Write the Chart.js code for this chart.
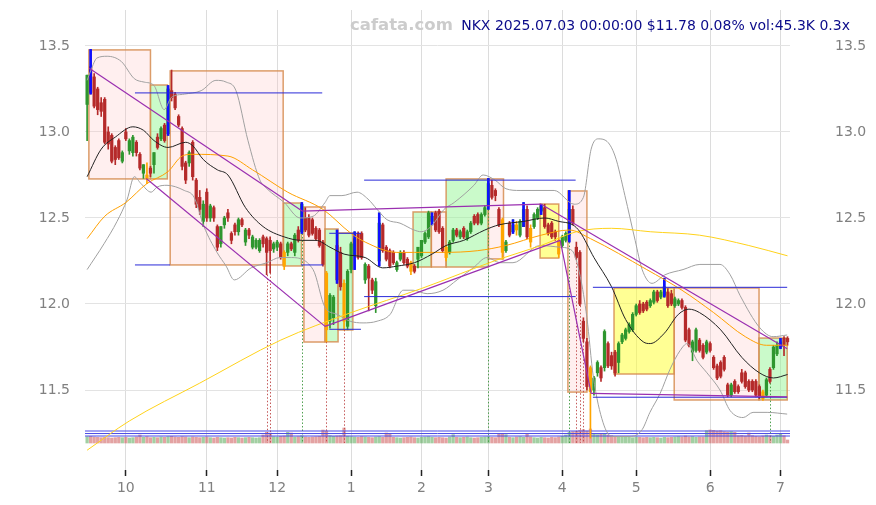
<!DOCTYPE html>
<html>
<head>
<meta charset="utf-8">
<script src="https://cdn.jsdelivr.net/npm/chart.js@4.4.1/dist/chart.umd.min.js"></script>
<style>
  html, body { margin: 0; padding: 0; background: #fff; }
  #wrap { width: 876px; height: 505px; position: relative; }
</style>
</head>
<body>
<div id="wrap"><canvas id="chart"></canvas></div>
<script>
// daily candles, index 0 = 2024-09-16 ... index 199 = 2025-07-03
const opens = [
  13.16,13.38,13.32,13.25,13.17,13.19,13.00,12.98,12.91,12.95, 12.83,13.00,12.89,12.88,12.94,12.87,12.76,12.75,12.79,12.81,
  12.97,12.96,13.04,12.99,13.24,13.22,13.09,13.02,12.82,12.82, 12.94,12.72,12.62,12.48,12.65,12.50,12.56,12.45,12.35,12.46,
  12.53,12.41,12.46,12.42,12.49,12.36,12.43,12.33,12.33,12.31, 12.39,12.38,12.37,12.32,12.33,12.35,12.30,12.30,12.35,12.30,
  12.43,12.42,12.50,12.50,12.49,12.44,12.43,12.36,12.18,11.90, 11.92,12.34,12.30,12.12,11.87,12.20,12.28,12.41,12.41,12.14,
  12.22,12.14,11.99,12.25,12.46,12.33,12.31,12.30,12.20,12.26, 12.30,12.26,12.24,12.22,12.26,12.28,12.36,12.39,12.48,12.53,
  12.54,12.44,12.33,12.30,12.37,12.43,12.39,12.44,12.38,12.42, 12.51,12.52,12.47,12.52,12.57,12.69,12.66,12.55,12.49,12.31,
  12.47,12.42,12.46,12.40,12.45,12.55,12.44,12.45,12.50,12.54, 12.56,12.46,12.47,12.42,12.37,12.34,12.37,12.40,12.55,12.33,
  12.30,11.90,11.78,11.63,11.50,11.60,11.63,11.63,11.77,11.70, 11.72,11.66,11.78,11.80,11.84,11.85,11.94,12.00,12.00,12.01,
  11.99,12.01,12.07,12.04,12.05,12.07,12.06,11.99,12.00,12.02, 11.98,11.85,11.72,11.73,11.79,11.76,11.72,11.77,11.69,11.64,
  11.66,11.69,11.53,11.47,11.55,11.52,11.60,11.60,11.55,11.55, 11.55,11.52,11.49,11.47,11.62,11.63,11.71,11.75,11.80,11.80
];
const highs = [
  13.33,13.48,13.34,13.26,13.20,13.20,13.03,12.99,12.92,12.96, 12.89,13.02,12.96,12.98,12.95,12.88,12.81,12.82,12.80,12.88,
  12.99,13.03,13.05,13.27,13.36,13.23,13.10,13.03,12.83,12.89, 12.95,12.73,12.66,12.60,12.67,12.58,12.57,12.46,12.45,12.51,
  12.55,12.42,12.47,12.50,12.50,12.44,12.44,12.40,12.38,12.38, 12.40,12.39,12.39,12.36,12.37,12.36,12.31,12.36,12.36,12.41,
  12.45,12.59,12.56,12.52,12.50,12.45,12.44,12.37,12.19,12.06, 12.05,12.43,12.33,12.14,12.20,12.36,12.42,12.42,12.42,12.24,
  12.23,12.15,12.15,12.53,12.47,12.34,12.32,12.31,12.25,12.31, 12.31,12.27,12.25,12.23,12.33,12.37,12.42,12.54,12.53,12.54,
  12.55,12.45,12.34,12.37,12.44,12.44,12.43,12.45,12.43,12.48, 12.52,12.53,12.53,12.57,12.73,12.72,12.67,12.56,12.50,12.37,
  12.48,12.49,12.48,12.49,12.59,12.57,12.46,12.53,12.56,12.58, 12.58,12.47,12.48,12.43,12.38,12.40,12.42,12.66,12.57,12.36,
  12.31,11.92,11.80,11.64,11.58,11.67,11.64,11.85,11.78,11.72, 11.73,11.78,11.83,11.86,11.89,11.95,12.00,12.02,12.01,12.02,
  12.03,12.08,12.08,12.08,12.15,12.09,12.08,12.04,12.03,12.03, 11.99,11.86,11.79,11.86,11.80,11.77,11.79,11.78,11.70,11.65,
  11.67,11.70,11.54,11.54,11.56,11.53,11.62,11.61,11.56,11.56, 11.56,11.53,11.50,11.57,11.63,11.76,11.78,11.80,11.81,11.81
];
const lows = [
  12.95,13.22,13.14,13.10,13.09,12.93,12.90,12.82,12.81,12.84, 12.82,12.95,12.87,12.86,12.86,12.78,12.73,12.70,12.74,12.76,
  12.90,12.95,12.94,12.98,13.18,13.13,13.03,12.78,12.70,12.80, 12.72,12.56,12.52,12.45,12.48,12.48,12.48,12.31,12.33,12.44,
  12.48,12.35,12.40,12.40,12.45,12.34,12.38,12.32,12.32,12.30, 12.33,12.17,12.18,12.30,12.31,12.26,12.20,12.28,12.31,12.28,
  12.36,12.41,12.42,12.39,12.40,12.37,12.33,12.22,11.78,11.86, 11.88,12.12,12.08,11.85,11.85,12.18,12.20,12.26,12.26,12.12,
  11.96,12.06,11.95,12.22,12.30,12.25,12.21,12.23,12.19,12.25, 12.23,12.21,12.17,12.18,12.21,12.27,12.35,12.38,12.46,12.42,
  12.41,12.30,12.25,12.29,12.36,12.39,12.38,12.38,12.37,12.41, 12.46,12.46,12.46,12.51,12.55,12.61,12.60,12.45,12.26,12.30,
  12.39,12.41,12.40,12.39,12.45,12.38,12.33,12.44,12.49,12.52, 12.44,12.40,12.38,12.37,12.27,12.33,12.36,12.36,12.46,12.26,
  11.99,11.78,11.50,11.22,11.47,11.58,11.55,11.61,11.63,11.62, 11.58,11.60,11.77,11.79,11.83,11.84,11.93,11.94,11.95,11.96,
  11.98,12.00,12.01,12.03,12.04,11.98,11.99,11.98,11.99,11.97, 11.78,11.75,11.67,11.72,11.72,11.68,11.71,11.72,11.62,11.56,
  11.57,11.61,11.46,11.46,11.48,11.48,11.54,11.51,11.49,11.49, 11.46,11.45,11.44,11.46,11.54,11.62,11.70,11.74,11.70,11.76
];
const closes = [
  13.33,13.23,13.15,13.13,13.12,12.94,12.93,12.83,12.84,12.85, 12.88,12.96,12.95,12.97,12.88,12.79,12.81,12.73,12.76,12.88,
  12.91,13.02,12.95,13.25,13.20,13.14,13.04,12.80,12.72,12.88, 12.74,12.58,12.55,12.58,12.50,12.57,12.50,12.33,12.45,12.50,
  12.50,12.37,12.42,12.49,12.46,12.43,12.40,12.39,12.37,12.37, 12.35,12.30,12.31,12.35,12.36,12.27,12.22,12.35,12.32,12.40,
  12.37,12.58,12.43,12.40,12.41,12.38,12.34,12.23,11.85,12.05, 12.04,12.14,12.10,11.90,12.19,12.35,12.38,12.27,12.27,12.23,
  12.15,12.08,12.13,12.47,12.31,12.26,12.22,12.24,12.24,12.30, 12.24,12.22,12.19,12.19,12.33,12.37,12.41,12.53,12.51,12.43,
  12.42,12.31,12.27,12.36,12.43,12.40,12.42,12.39,12.42,12.47, 12.47,12.47,12.52,12.56,12.70,12.62,12.63,12.46,12.30,12.36,
  12.40,12.46,12.43,12.48,12.55,12.39,12.36,12.52,12.55,12.57, 12.45,12.41,12.39,12.39,12.29,12.39,12.41,12.55,12.47,12.27,
  12.00,11.80,11.52,11.49,11.57,11.66,11.57,11.84,11.64,11.64, 11.60,11.77,11.82,11.85,11.88,11.94,11.99,11.95,11.96,11.97,
  12.02,12.07,12.02,12.07,12.10,11.99,12.00,12.03,12.02,11.98, 11.79,11.76,11.78,11.85,11.73,11.69,11.78,11.73,11.63,11.57,
  11.58,11.62,11.47,11.53,11.49,11.49,11.55,11.52,11.50,11.50, 11.47,11.46,11.45,11.56,11.55,11.75,11.76,11.78,11.76,11.78
];
// b = blue signal mark, o = orange signal candle, g/r = plain
const kinds =
  'gbrrrrrrrr' + 'grggrrgorg' + 'rgrbrrrrrg' + 'rrrgrgrrgg' + 'rrrgrgrggg' +
  'rrrggrogrg' + 'rbrrrrrrog' + 'gbroggbrrg' + 'rrgbrrrrgg' + 'rrorggggbr' +
  'rroggrgrgg' + 'rrggbrrrog' + 'rbogbroggb' + 'rrrroggbrr' + 'rrroggrgrr' +
  'rggggggrrr' + 'ggrgbrrggr' + 'rrggrrgrrr' + 'rrrgrrrrrr' + 'rrogrggbrr';
const volumes = [
  95,100,90,85,80,85,80,75,80,85, 80,85,75,80,90,120,85,95,80,85,
  80,90,85,95,100,90,85,95,90,80, 90,85,80,85,90,80,75,85,80,75,
  80,75,85,80,75,80,85,80,75,80, 120,160,150,95,90,100,105,160,150,90,
  95,110,90,85,90,95,100,195,180,110, 100,105,110,225,100,95,90,85,95,90,
  85,80,90,95,85,150,140,85,80,75, 80,85,90,80,75,85,90,95,85,80,
  85,80,75,90,125,85,80,85,90,80, 75,80,85,90,95,85,80,130,135,125,
  85,80,90,95,85,130,90,80,75,85, 80,75,85,80,90,100,120,160,170,175,
  190,200,180,210,130,125,135,130,120,110, 95,90,85,90,85,80,90,85,80,85,
  80,85,80,75,85,80,85,90,95,90, 105,90,95,85,90,90,185,195,190,180,
  185,170,165,170,160,110,115,105,150,110, 100,95,105,120,110,100,120,135,110,45.3
];
const volAvgLines = [180, 142, 105];

const monthTickIdx = [11, 34, 54, 75, 95, 114, 135, 156, 177, 197];
const monthTickLabels = ['10', '11', '12', '1', '2', '3', '4', '5', '6', '7'];
const priceTicks = [11.5, 12.0, 12.5, 13.0, 13.5];

// moving averages, sampled along the bar index
const maBlackIdx = [0,4,8,13,16,19,23,28,30,33,37,40,45,50,56,61,65,69,73,79,84,88,93,98,102,107,113,117,124,130,134,138,140,144,149,153,158,160,164,168,171,174,180,186,191,195,199];
const maBlackVal = [12.74,12.90,12.97,13.03,13.01,12.95,12.91,12.94,12.92,12.84,12.78,12.75,12.56,12.45,12.39,12.37,12.37,12.33,12.29,12.27,12.21,12.22,12.24,12.29,12.34,12.37,12.43,12.46,12.48,12.50,12.48,12.46,12.42,12.27,12.10,11.91,11.78,11.77,11.83,11.94,11.97,11.95,11.85,11.69,11.60,11.57,11.59];
const maOrangeIdx = [0,5,11,17,23,27,30,40,47,57,67,75,79,88,93,101,111,119,129,137,143,159,169,178,187,193,199];
const maOrangeVal = [12.38,12.51,12.59,12.70,12.77,12.86,12.87,12.86,12.78,12.65,12.55,12.41,12.36,12.30,12.30,12.30,12.31,12.34,12.40,12.43,12.38,12.20,12.08,11.95,11.81,11.76,11.76];
const maYellowIdx = [0,12,32,55,75,95,117,129,139,149,160,174,188,199];
const maYellowVal = [11.15,11.32,11.54,11.79,11.95,12.09,12.26,12.34,12.42,12.44,12.42,12.40,12.34,12.28];
const bandUpIdx = [0,1.1,2.8,5.7,9.7,13.4,16.2,19,21.9,23.9,27.6,32.4,36.6,39.5,42.3,45.7,49.1,51.1,56,60.5,64.2,67.6,69,72.4,76.7,79.8,82.4,85.2,88.9,92.9,94.9,97.7,101.4,104.3,109.9,112.5,115.9,119,123,132.7,138.4,141,143.2,145.2,147.4,150,152.8,155.7,157.7,160.5,164.2,169.3,174.1,179.8,182.7,185.5,191.2,194.9,198.9];
const bandUpVal = [13.30,13.36,13.43,13.44,13.41,13.31,13.29,13.27,13.13,13.20,13.22,13.24,13.30,13.29,13.24,12.95,12.72,12.67,12.59,12.50,12.51,12.59,12.63,12.63,12.65,12.61,12.55,12.49,12.47,12.43,12.42,12.45,12.55,12.59,12.69,12.75,12.72,12.67,12.66,12.66,12.58,12.62,12.90,12.96,12.95,12.86,12.63,12.37,12.20,12.12,12.17,12.20,12.23,12.23,12.17,12.05,11.86,11.81,11.82];
const bandLoIdx = [0,4.8,8.5,11.4,13.4,15.3,18.2,19.9,22.7,27.6,30.4,33.2,36.9,39.5,41.8,46.6,51.1,54.8,57.7,64.2,67.6,71,74.7,78.4,82.4,86.1,89.8,92.6,96.6,101.1,105.1,109.7,113.6,117.3,121,128.7,134.4,137.8,140.1,142,143.8,146.6,149.1,154.3,157.7,159.9,162.8,165.6,168.5,170.5,173.3,176.1,179.8,182.7,186.4,189.2,193.2,198.9];
const bandLoVal = [12.20,12.35,12.48,12.61,12.74,12.70,12.65,12.68,12.69,12.66,12.62,12.45,12.30,12.22,12.14,12.21,12.24,12.27,12.27,12.20,11.98,11.94,11.90,11.89,11.90,11.94,12.08,12.08,12.06,12.08,12.14,12.21,12.27,12.24,12.24,12.34,12.33,12.31,12.16,11.92,11.58,11.31,11.23,11.23,11.27,11.37,11.48,11.62,11.73,11.77,11.67,11.60,11.50,11.38,11.34,11.37,11.37,11.36];

// range boxes: start/end bar index, low/high price, kind
const boxStart = [0.5, 18.0, 23.6, 55.8, 61.6, 67.6, 71.3, 92.6, 97.8, 102.0, 114.0, 128.7, 136.6, 149.7, 166.8, 190.9];
const boxEnd   = [18.0, 22.8, 55.7, 60.9, 67.6, 71.3, 75.5, 97.8, 102.0, 114.0, 118.3, 134.0, 142.0, 166.8, 190.9, 198.9];
const boxLow   = [12.727, 12.727, 12.227, 12.221, 11.779, 11.780, 11.849, 12.215, 12.215, 12.215, 12.262, 12.267, 11.488, 11.593, 11.442, 11.442];
const boxHigh  = [13.477, 13.273, 13.355, 12.587, 12.564, 12.436, 12.413, 12.535, 12.535, 12.727, 12.727, 12.581, 12.657, 12.093, 12.093, 11.802];
const boxKind  = ['pink','green','pink','green','pink','green','green','green','pink','green','pink','yellow','pink','yellow','pink','green'];

// support / resistance levels: [fromIdx, price, toIdx, price]
const levelLines = [
  [13.6, 13.227, 66.8, 13.227],
  [13.6, 12.227, 23.6, 12.227],
  [60.8, 12.227, 67.0, 12.227],
  [68.8, 12.411, 77.8, 12.411],
  [68.8, 11.853, 77.8, 11.853],
  [78.7, 12.720, 138.8, 12.720],
  [78.7, 12.043, 138.8, 12.043],
  [143.7, 12.097, 198.9, 12.097],
  [143.7, 11.458, 198.9, 11.458]
];
const trendLines = [
  [0.6, 13.37, 61.1, 12.54],
  [16.8, 12.73, 67.6, 11.87],
  [61.1, 12.54, 129.0, 12.58],
  [129.0, 12.58, 198.9, 11.74],
  [67.6, 11.87, 134.4, 12.37],
  [134.4, 12.37, 143.2, 11.48],
  [143.2, 11.48, 198.9, 11.46]
];
// dotted signal verticals from the candle low down to the volume strip
const dotIdx = [51, 52, 61, 68, 73, 114, 137, 139, 140, 141, 194];
const dotUp  = [false, false, true, false, false, true, true, false, false, false, true];

const siteMark = 'cafata.com';
const headline = 'NKX 2025.07.03 00:00:00 $11.78 0.08% vol:45.3K 0.3x';

const upColor = '#2e962e';
const downColor = '#b52a2a';
const orangeColor = '#ffa500';
const blueColor = '#1010ff';
const boxFill = { pink: 'rgba(255,190,190,0.25)', green: 'rgba(150,245,150,0.5)', yellow: 'rgba(255,255,60,0.55)' };

const candleColor = opens.map((o, i) => kinds[i] === 'o' ? orangeColor : (closes[i] >= o ? upColor : downColor));
const volColor = opens.map((o, i) => closes[i] >= o ? 'rgba(70,160,70,0.5)' : 'rgba(200,70,70,0.5)');

const idxs = opens.map((_, i) => i);
const toPts = (xs, ys) => xs.map((x, k) => ({ x: x, y: ys[k] }));

function lineSet(data, color, order, extra) {
  return Object.assign({
    type: 'line', data: data, borderColor: color, borderWidth: 1,
    pointRadius: 0, fill: false, order: order, yAxisID: 'y'
  }, extra || {});
}

const datasets = [
  { type: 'bar', data: idxs.map(i => ({ x: i, y: volumes[i] })), backgroundColor: volColor,
    barThickness: 2.6, grouped: false, yAxisID: 'yv', order: 20 },
  { type: 'bar', data: idxs.map(i => ({ x: i, y: [lows[i], highs[i]] })), backgroundColor: candleColor,
    barThickness: 1, grouped: false, yAxisID: 'y', order: 12 },
  { type: 'bar', data: idxs.map(i => ({ x: i, y: [opens[i], closes[i]] })), backgroundColor: candleColor,
    barThickness: 2.6, grouped: false, yAxisID: 'y', order: 11 },
  { type: 'bar', data: idxs.filter(i => kinds[i] === 'b').map(i => ({ x: i, y: [lows[i], highs[i]] })),
    backgroundColor: blueColor, barThickness: 2, grouped: false, yAxisID: 'y', order: 10 },
  lineSet(toPts(bandUpIdx, bandUpVal), '#a0a0a0', 6, { cubicInterpolationMode: 'monotone' }),
  lineSet(toPts(bandLoIdx, bandLoVal), '#a0a0a0', 6, { cubicInterpolationMode: 'monotone' }),
  lineSet(toPts(maYellowIdx, maYellowVal), '#ffd21a', 5, { cubicInterpolationMode: 'monotone' }),
  lineSet(toPts(maOrangeIdx, maOrangeVal), '#ffa000', 5, { cubicInterpolationMode: 'monotone' }),
  lineSet(toPts(maBlackIdx, maBlackVal), '#222222', 4, { cubicInterpolationMode: 'monotone' })
];
levelLines.forEach(s => datasets.push(lineSet([{ x: s[0], y: s[1] }, { x: s[2], y: s[3] }], '#2a2ad8', 3)));
trendLines.forEach(s => datasets.push(lineSet([{ x: s[0], y: s[1] }, { x: s[2], y: s[3] }], '#9a2fb0', 2, { borderWidth: 1.2 })));
volAvgLines.forEach(v => datasets.push(lineSet([{ x: -0.6, y: v }, { x: 199.7, y: v }], '#4a4ae6', 15, { yAxisID: 'yv' })));

const backdrop = {
  id: 'backdrop',
  beforeDatasetsDraw(chart) {
    const { ctx, chartArea, scales } = chart;
    const x = scales.x, y = scales.y;
    ctx.save();
    ctx.beginPath();
    ctx.rect(chartArea.left, chartArea.top, chartArea.width, chartArea.height);
    ctx.clip();
    boxStart.forEach((s, k) => {
      const x0 = x.getPixelForValue(s), x1 = x.getPixelForValue(boxEnd[k]);
      const y0 = y.getPixelForValue(boxHigh[k]), y1 = y.getPixelForValue(boxLow[k]);
      ctx.fillStyle = boxFill[boxKind[k]];
      ctx.fillRect(x0, y0, x1 - x0, y1 - y0);
      ctx.strokeStyle = 'rgba(214,140,80,0.85)';
      ctx.lineWidth = 1.5;
      ctx.strokeRect(x0, y0, x1 - x0, y1 - y0);
    });
    ctx.lineWidth = 1;
    ctx.setLineDash([1.5, 2]);
    dotIdx.forEach((i, k) => {
      const px = Math.round(x.getPixelForValue(i)) + 0.5;
      ctx.strokeStyle = dotUp[k] ? 'rgba(60,150,60,0.9)' : 'rgba(190,70,70,0.9)';
      ctx.beginPath();
      ctx.moveTo(px, y.getPixelForValue(lows[i]));
      ctx.lineTo(px, scales.yv.getPixelForValue(0));
      ctx.stroke();
    });
    ctx.restore();
  },
  afterDraw(chart) {
    const ctx = chart.ctx;
    ctx.save();
    ctx.textBaseline = 'middle';
    ctx.font = 'bold 16.5px "DejaVu Sans"';
    ctx.fillStyle = '#cccccc';
    ctx.textAlign = 'left';
    ctx.fillText(siteMark, 350, 26);
    ctx.font = '14px "DejaVu Sans"';
    ctx.fillStyle = '#0b0b8a';
    ctx.textAlign = 'right';
    ctx.fillText(headline, 850, 26);
    ctx.restore();
  }
};

Chart.defaults.font.family = '"DejaVu Sans"';
Chart.defaults.font.size = 14;

// gap between plot and labels is made with an invisible tick mark, so the
// axis does not push the plot area down the way ticks.padding would
const priceAxis = (pos, gap, width, showGrid) => ({
  type: 'linear', position: pos, min: 11.035, max: 13.709,
  border: { display: false },
  grid: { display: true, drawOnChartArea: showGrid, drawTicks: true, tickLength: gap,
          tickColor: 'rgba(0,0,0,0)', color: '#e3e3e3' },
  ticks: { color: '#808080', padding: 0, font: { size: 14 }, callback: v => v.toFixed(1) },
  afterBuildTicks: s => { s.ticks = priceTicks.map(v => ({ value: v })); },
  afterFit: s => { s.width = width; }
});

new Chart(document.getElementById('chart'), {
  type: 'line',
  data: { datasets: datasets },
  options: {
    responsive: true,
    maintainAspectRatio: false,
    animation: false,
    events: [],
    layout: { padding: { top: 10, left: 0, right: 0, bottom: 0 } },
    plugins: { legend: { display: false }, tooltip: { enabled: false }, title: { display: false } },
    scales: {
      x: {
        type: 'linear', min: -0.6, max: 199.7, offset: false,
        border: { display: false },
        grid: { color: '#dcdcdc', offset: false, drawTicks: true, tickLength: 6, tickColor: '#222', tickWidth: 1.5 },
        ticks: { color: '#808080', padding: 4, autoSkip: false, maxRotation: 0, font: { size: 14 },
                 callback: (v, k) => monthTickLabels[k] },
        afterBuildTicks: s => { s.ticks = monthTickIdx.map(v => ({ value: v })); },
        afterFit: s => { s.height = 35; }
      },
      y: priceAxis('left', 15, 85, true),
      y2: priceAxis('right', 45, 86, false),
      yv: { type: 'linear', display: false, min: -405, max: 6495 }
    }
  },
  plugins: [backdrop]
});
</script>
</body>
</html>
